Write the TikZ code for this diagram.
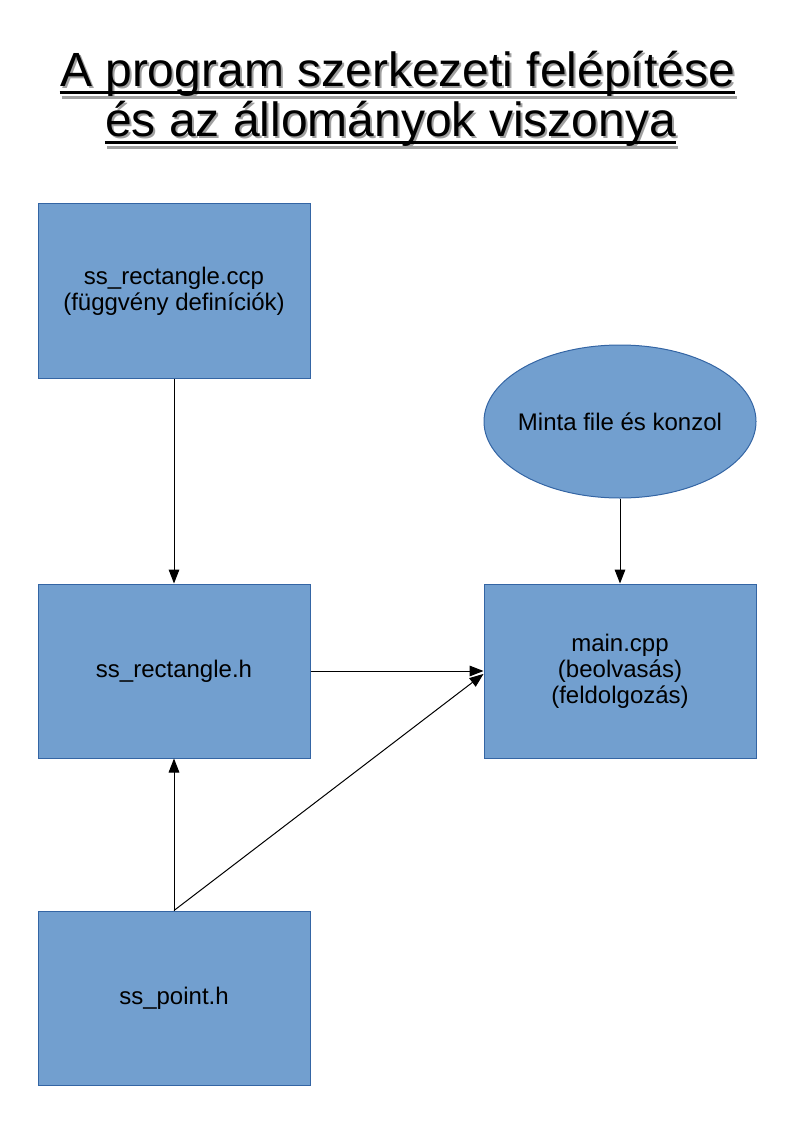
\documentclass[tikz,border=0pt]{standalone}
\usepackage{fontspec}
\setmainfont{Liberation Sans}
\usetikzlibrary{shapes.geometric,arrows.meta}
\definecolor{boxfill}{HTML}{729FCF}
\definecolor{boxline}{HTML}{3465A4}
\definecolor{shadowgray}{HTML}{A0A0A0}
\tikzset{
  box/.style={draw=boxline, fill=boxfill, line width=0.75pt, minimum width=272*0.75pt, minimum height=174*0.75pt, inner sep=0pt, align=center, font=\fontsize{18pt}{19.5pt}\selectfont},
  oval/.style={ellipse, draw=boxline, fill=boxfill, line width=0.75pt, minimum width=272*0.75pt, minimum height=153*0.75pt, inner sep=0pt},
  lbl/.style={inner sep=0pt, align=center, font=\fontsize{18pt}{19.5pt}\selectfont},
  conn/.style={line width=0.75pt, -{Triangle[length=10.5pt,width=8pt]}},
  ttl/.style={inner sep=0pt, anchor=base, font=\fontsize{36pt}{40pt}\selectfont},
  uline/.style={line width=2.1pt}
}
\begin{document}
\begin{tikzpicture}[x=0.75pt,y=-0.75pt]
\useasboundingbox (0,0) rectangle (794,1123);
% title shadow
\node[ttl, text=shadowgray] (s1) at (399.5,89) {A program szerkezeti felépítése};
\node[ttl, text=shadowgray] (s2) at (392.5,139) {és az állományok viszonya};
\draw[uline, shadowgray] ([yshift=-6.5pt]s1.base west) -- ([yshift=-6.5pt]s1.base east);
\draw[uline, shadowgray] ([yshift=-6.5pt]s2.base west) -- ([yshift=-6.5pt]s2.base east);
% title
\node[ttl] (t1) at (397.5,87) {A program szerkezeti felépítése};
\node[ttl] (t2) at (390.5,137) {és az állományok viszonya};
\draw[uline] ([yshift=-4pt]t1.base west) -- ([yshift=-4pt]t1.base east);
\draw[uline] ([yshift=-4pt]t2.base west) -- ([yshift=-4pt]t2.base east);
% nodes
\node[box] (ccp) at (174,291) {ss\_rectangle.ccp\\(függvény definíciók)};
\node[box] (rh) at (174,671) {ss\_rectangle.h};
\node[box] (ph) at (174,998) {ss\_point.h};
\node[box] (main) at (620,671) {main.cpp\\(beolvasás)\\(feldolgozás)};
\node[oval] (minta) at (620,421.5) {};
\node[lbl] (mintatext) at (minta.center) {Minta file és konzol};
% connectors
\draw[conn] (ccp.south) -- (rh.north);
\draw[conn] (minta.south) -- (main.north);
\draw[conn] (rh.east) -- (main.west);
\draw[conn] (ph.north) -- (rh.south);
\draw[conn] (ph.north) -- ([yshift=-2.2pt]main.west);
\end{tikzpicture}
\end{document}
